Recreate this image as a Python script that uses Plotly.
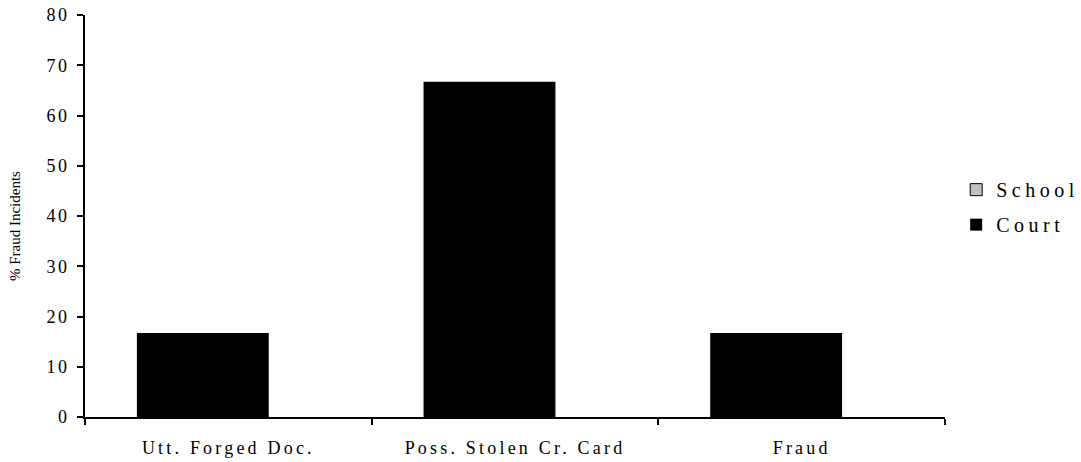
import plotly.graph_objects as go

categories = ["Utt. Forged Doc.", "Poss. Stolen Cr. Card", "Fraud"]
school = [0, 0, 0]
court = [16.7, 66.7, 16.7]
y_ticks = [0, 10, 20, 30, 40, 50, 60, 70, 80]
y_title = "% Fraud Incidents"

FONT = "Liberation Serif"

fig = go.Figure()
fig.add_trace(go.Bar(
    x=categories, y=school, name="School", legendgroup="s",
    marker=dict(color="#c0c0c0", line=dict(color="black", width=1)),
    offset=-0.30, width=0.40,
))
fig.add_trace(go.Bar(
    x=categories, y=court, name="Court", legendgroup="c",
    marker=dict(color="black", line=dict(color="black", width=0)),
    offset=-0.319, width=0.46,
))

fig.update_layout(
    width=1081, height=462,
    margin=dict(l=85, r=136, t=15, b=45),
    paper_bgcolor="white", plot_bgcolor="white",
    barmode="overlay",
    font=dict(family=FONT, color="black", size=18),
    showlegend=True,
    legend=dict(
        x=1.013, y=0.522, xanchor="left", yanchor="middle",
        font=dict(family=FONT, size=20, color="black"),
        itemwidth=30, tracegroupgap=6,
        bgcolor="rgba(0,0,0,0)",
    ),
    xaxis=dict(
        range=[-0.5, 2.5], automargin=False,
        showline=True, linecolor="black", linewidth=2,
        ticks="outside", tickson="boundaries", ticklen=6, tickwidth=2, tickcolor="black",
        showgrid=False, zeroline=False,
        tickfont=dict(family=FONT, size=18, color="black"),
        ticklabelstandoff=13,
    ),
    yaxis=dict(
        range=[0, 80], tickvals=y_ticks, automargin=False,
        showline=True, linecolor="black", linewidth=2,
        ticks="outside", ticklen=6, tickwidth=2, tickcolor="black",
        showgrid=False, zeroline=False,
        tickfont=dict(family=FONT, size=18, color="black"),
        ticklabelstandoff=4,
    ),
    annotations=[dict(
        text=y_title, textangle=-90, showarrow=False,
        xref="paper", yref="paper", x=-0.0814, y=0.475,
        xanchor="center", yanchor="middle",
        font=dict(family=FONT, size=15, color="black"),
    )],
)

spacing_css = """
var st = document.createElement('style');
st.textContent = '.xtick text{letter-spacing:3.2px;} .ytick text{letter-spacing:2.5px;} .legendtext{letter-spacing:4.5px;} .legend .scrollbox{clip-path:none !important;}';
document.head.appendChild(st);
"""

fig.write_html("out.html", post_script=spacing_css)
